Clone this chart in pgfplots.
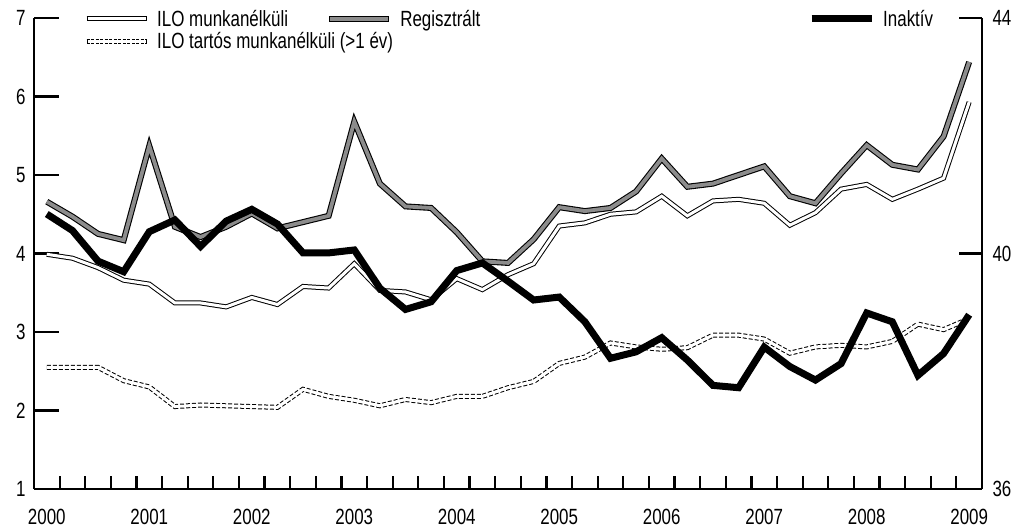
\documentclass[border=0pt]{standalone}
\usepackage{fontspec}
\setmainfont{Liberation Sans}[FakeStretch=0.77]
\usepackage{pgfplots}
\usepackage{pgfplotstable}
\pgfplotsset{compat=1.18}
\definecolor{reggray}{RGB}{140,140,140}

\pgfplotstableread{
i reg ilo tart inak
0 4.66 3.99 2.55 40.67
1 4.47 3.94 2.55 40.39
2 4.25 3.82 2.55 39.87
3 4.17 3.66 2.38 39.69
4 5.37 3.61 2.30 40.37
5 4.34 3.37 2.05 40.57
6 4.21 3.37 2.07 40.12
7 4.34 3.32 2.06 40.55
8 4.51 3.44 2.05 40.75
9 4.32 3.35 2.04 40.50
10 4.40 3.58 2.27 40.01
11 4.48 3.56 2.18 40.01
12 5.68 3.87 2.13 40.06
13 4.89 3.53 2.06 39.41
14 4.60 3.51 2.14 39.05
15 4.58 3.41 2.10 39.18
16 4.27 3.68 2.18 39.71
17 3.90 3.54 2.18 39.84
18 3.88 3.73 2.29 39.53
19 4.18 3.87 2.37 39.21
20 4.59 4.35 2.60 39.26
21 4.54 4.39 2.68 38.84
22 4.58 4.50 2.86 38.22
23 4.79 4.53 2.81 38.33
24 5.21 4.73 2.78 38.57
25 4.85 4.48 2.80 38.19
26 4.89 4.67 2.96 37.76
27 5.00 4.69 2.96 37.72
28 5.11 4.64 2.91 38.41
29 4.73 4.36 2.73 38.08
30 4.64 4.52 2.81 37.85
31 5.02 4.82 2.83 38.13
32 5.38 4.88 2.81 38.99
33 5.13 4.69 2.88 38.84
34 5.07 4.82 3.10 37.93
35 5.49 4.96 3.03 38.30
36 6.44 5.93 3.17 38.96
}\data

\newcommand{\fs}{\fontsize{22}{26}\selectfont}

\pgfplotsset{
  base/.style={
    scale only axis, width=948pt, height=471pt,
    xmin=-0.5, xmax=36.5,
    at={(34pt,43pt)}, anchor=south west,
    axis line style={line width=2.2pt, black},
    tick style={line width=2.2pt, black},
    tick align=inside,
    /pgf/number format/assume math mode=true,
    tick label style={font=\fs},
    legend style={draw=none, fill=none, font=\fs, anchor=north west,
      /tikz/every odd column/.append style={column sep=6pt}},
    legend cell align=left,
    clip=false,
  }
}

\begin{document}
\begin{tikzpicture}
\useasboundingbox (0,0) rectangle (1021pt,532pt);

% Axis A: quarter ticks and Regisztralt
\begin{axis}[base, ymin=1, ymax=7,
  axis x line*=bottom, axis y line=none,
  xtick={0.5,1.5,...,35.5}, xticklabels={},
  major tick length=13pt,
  legend style={at={(0.305,1.026)}}]
\addplot[black, line width=6pt, forget plot] table[x=i,y=reg]{\data};
\addplot[reggray, line width=3.8pt,
  legend image code/.code={
    \draw[black,line width=6pt] (0pt,0pt) -- (60pt,0pt);
    \draw[reggray,line width=3.8pt] (1.1pt,0pt) -- (58.9pt,0pt);}
  ] table[x=i,y=reg]{\data};
\addlegendentry{Regisztrált}
\end{axis}

% Axis B: left axis, labels, ILO series
\begin{axis}[base, ymin=1, ymax=7,
  axis x line*=bottom, axis y line*=left,
  ytick={1,2,3,4,5,6,7},
  xtick={0,4,8,12,16,20,24,28,32,36},
  xticklabels={2000,2001,2002,2003,2004,2005,2006,2007,2008,2009},
  xtick style={draw=none},
  major tick length=25pt,
  xticklabel style={yshift=-17pt},
  yticklabel style={xshift=-5pt},
  legend style={at={(0.0496,1.026)}, row sep=1pt}]
\addplot[black, line width=5pt, forget plot] table[x=i,y=ilo]{\data};
\addplot[white, line width=3pt,
  legend image code/.code={
    \draw[black,line width=5pt] (0pt,0pt) -- (60pt,0pt);
    \draw[white,line width=3pt] (1pt,0pt) -- (59pt,0pt);}
  ] table[x=i,y=ilo]{\data};
\addlegendentry{ILO munkanélküli}
\addplot[black, line width=5pt, dash pattern=on 4pt off 2pt, forget plot] table[x=i,y=tart]{\data};
\addplot[white, line width=3pt,
  legend image code/.code={
    \draw[black,line width=5pt,dash pattern=on 3pt off 1.5pt] (0pt,0pt) -- (60pt,0pt);
    \draw[white,line width=3pt] (1pt,0pt) -- (59pt,0pt);}
  ] table[x=i,y=tart]{\data};
\addlegendentry{ILO tartós munkanélküli (>1 év)}
\end{axis}

% Axis C: right axis, Inaktiv
\begin{axis}[base, ymin=36, ymax=44,
  axis x line=none, axis y line*=right,
  ytick={36,40,44},
  major tick length=23pt,
  yticklabel style={xshift=7pt},
  legend style={at={(0.8133,1.026)}}]
\addplot[black, line width=7pt,
  legend image code/.code={
    \draw[black,line width=7pt] (0pt,0pt) -- (60pt,0pt);}
  ] table[x=i,y=inak]{\data};
\addlegendentry{Inaktív}
\end{axis}
\end{tikzpicture}
\end{document}
